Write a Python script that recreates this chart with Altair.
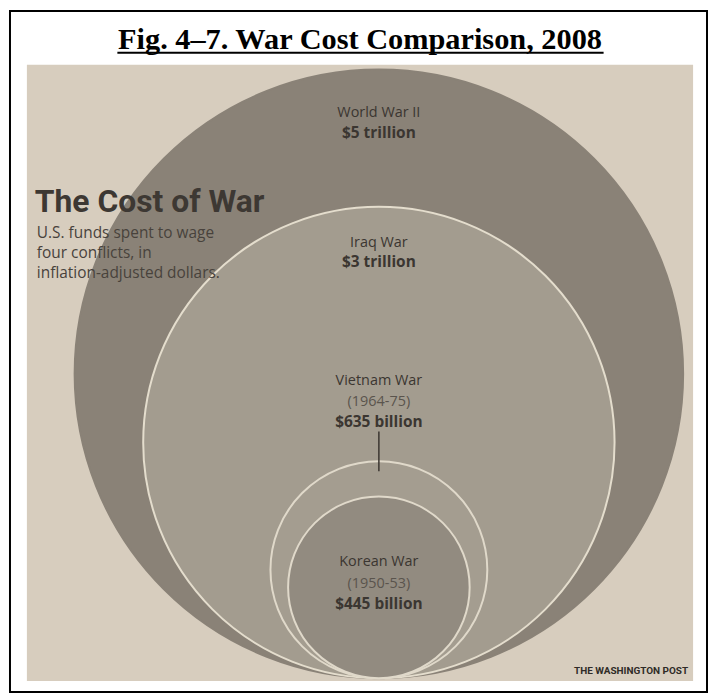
import math
import altair as alt
import pandas as pd

# ---- data ----
wars = ["World War II", "Iraq War", "Vietnam War", "Korean War"]
periods = ["", "", "(1964-75)", "(1950-53)"]
amounts_label = ["$5 trillion", "$3 trillion", "$635 billion", "$445 billion"]
cost_trillions = [5.0, 3.0, 0.635, 0.445]

fills = ["#8a8277", "#a39c8f", "#a49d90", "#928b80"]
strokes = ["#8a8277", "#e4ddcd", "#e0d9ca", "#e0d9ca"]

# ---- layout (pixels inside the chart) ----
W, H = 704, 687
CX = 373          # common centre line of the circles
BOTTOM = 672      # common bottom tangent point
R_MAX = 306       # radius of the largest circle in px

df = pd.DataFrame({"war": wars, "cost": cost_trillions})

y_scale = alt.Scale(domain=[0, 2 * math.sqrt(max(cost_trillions))],
                    range=[BOTTOM, BOTTOM - 2 * R_MAX])
x_scale = alt.Scale(domain=[-1, 1], range=[0, 2 * CX])
size_scale = alt.Scale(domain=[0, max(cost_trillions)], range=[0, 4 * R_MAX ** 2], zero=True)

one = pd.DataFrame({"a": [0]})

frame = alt.Chart(one).mark_rect(fill="white", stroke="black", strokeWidth=2).encode(
    x=alt.value(2), x2=alt.value(703), y=alt.value(1), y2=alt.value(686))

paper = alt.Chart(one).mark_rect(fill="#d7cdbe").encode(
    x=alt.value(19), x2=alt.value(689), y=alt.value(55), y2=alt.value(675))

circles = alt.Chart(df).transform_calculate(
    cy="sqrt(datum.cost)", cx="0"
).mark_circle(opacity=1, strokeWidth=2).encode(
    x=alt.X("cx:Q", scale=x_scale, axis=None),
    y=alt.Y("cy:Q", scale=y_scale, axis=None),
    size=alt.Size("cost:Q", scale=size_scale, legend=None),
    fill=alt.Fill("war:N", scale=alt.Scale(domain=wars, range=fills), legend=None),
    stroke=alt.Stroke("war:N", scale=alt.Scale(domain=wars, range=strokes), legend=None),
    order=alt.Order("cost:Q", sort="descending"),
)

tick = alt.Chart(one).mark_rule(color="#3a3530", strokeWidth=1.5).encode(
    x=alt.value(CX), y=alt.value(424), y2=alt.value(464))


def txt(s, x, y, size, weight="normal", color="#3b3631", font="Open Sans",
        align="center", baseline="middle"):
    return alt.Chart(one).mark_text(
        text=s, fontSize=size, fontWeight=weight, color=color, font=font,
        align=align, baseline=baseline).encode(x=alt.value(x), y=alt.value(y))


title = txt("Fig. 4–7. War Cost Comparison, 2008", 354, 39, 30.5, "bold", "black",
            "Liberation Serif", baseline="alphabetic")
underline = alt.Chart(one).mark_rule(color="black", strokeWidth=2).encode(
    x=alt.value(110), x2=alt.value(599), y=alt.value(43))

head = txt("The Cost of War", 27, 203, 32, "bold", "#3d3833",
           "Roboto, sans-serif", align="left", baseline="alphabetic")
body_lines = ["U.S. funds spent to wage", "four conflicts, in", "inflation-adjusted dollars."]
body = [txt(s, 29, 229 + 20.5 * i, 15.5, "normal", "#48423c", "Open Sans",
            align="left", baseline="alphabetic") for i, s in enumerate(body_lines)]

label_rows = [[104, 124], [234, 254], [373, 394, 414], [555, 577, 597]]
labels = []
for i, rows in enumerate(label_rows):
    lines = [wars[i]] + ([periods[i]] if periods[i] else []) + [amounts_label[i]]
    for j, (s, y) in enumerate(zip(lines, rows)):
        last = j == len(lines) - 1
        is_period = s.startswith("(")
        labels.append(txt(s, CX, y, 15.5 if last else 14.5,
                          "bold" if last else "normal",
                          "#5a544d" if is_period else "#3b3631"))

credit = txt("THE WASHINGTON POST", 684, 668, 10, "bold", "#2f2b27",
             "Roboto, sans-serif", align="right", baseline="alphabetic")

chart = alt.layer(frame, paper, circles, tick, title, underline, head, *body, *labels, credit).properties(
    width=W, height=H, padding=0, autosize=alt.AutoSizeParams(type="none"),
    background="white"
).configure_view(stroke=None)

chart.save("out.html", embed_options={"renderer": "svg", "actions": False})
